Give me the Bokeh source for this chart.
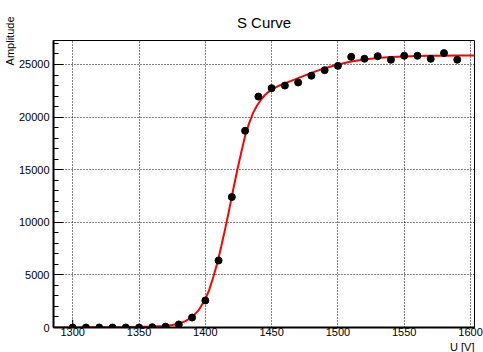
from bokeh.plotting import figure
from bokeh.models import Range1d, SingleIntervalTicker, Title
from bokeh.embed import file_html
from bokeh.resources import INLINE

# Measured points: high voltage (V) vs signal amplitude
voltage = [1300, 1310, 1320, 1330, 1340, 1350, 1360, 1370, 1380, 1390,
           1400, 1410, 1420, 1430, 1440, 1450, 1460, 1470, 1480, 1490,
           1500, 1510, 1520, 1530, 1540, 1550, 1560, 1570, 1580, 1590]
amplitude = [0, 0, 0, 0, 0, 0, 30, 80, 290, 950,
             2570, 6370, 12400, 18700, 21950, 22750, 23000, 23290, 23930, 24460,
             24870, 25730, 25540, 25790, 25450, 25830, 25830, 25540, 26080, 25450]
# upper error on the first point (only one large enough to show)
err_x = [1300]
err_lo = [0]
err_hi = [750]

# Fitted S-curve, sampled
fit_u = [1285.5, 1300, 1320, 1340, 1350, 1360, 1370, 1375, 1380, 1385, 1390,
         1395, 1400, 1403, 1406, 1409, 1412, 1415, 1418, 1421, 1424, 1427,
         1430, 1433, 1436, 1439, 1442, 1445, 1450, 1455, 1460, 1470, 1480,
         1490, 1500, 1510, 1520, 1530, 1540, 1550, 1560, 1570, 1580, 1590, 1603]
fit_a = [0, 10, 25, 45, 60, 90, 150, 230, 350, 600, 1000,
         1650, 2700, 3600, 4800, 6100, 7700, 9400, 11200, 13100, 14900, 16600,
         18200, 19400, 20400, 21100, 21650, 22100, 22650, 22950, 23200, 23700, 24200,
         24650, 25000, 25280, 25480, 25620, 25700, 25760, 25800, 25820, 25840, 25850, 25860]

p = figure(width=483, height=352, output_backend="svg", toolbar_location=None,
           x_range=Range1d(1285.5, 1603), y_range=Range1d(0, 27280),
           min_border_left=53, min_border_right=9, min_border_top=40,
           min_border_bottom=25, title=None)

p.background_fill_color = "white"
p.border_fill_color = "white"
p.outline_line_color = "black"
p.outline_line_width = 1

# axes
p.xaxis.ticker = SingleIntervalTicker(interval=50, num_minor_ticks=0)
p.yaxis.ticker = SingleIntervalTicker(interval=5000, num_minor_ticks=5)
for ax in (p.xaxis, p.yaxis):
    ax.axis_line_color = "black"
    ax.axis_line_width = 2
    ax.major_label_text_font = "Liberation Sans"
    ax.major_label_text_font_size = "11px"
    ax.major_label_text_color = "black"
    ax.major_tick_out = 0
    ax.minor_tick_out = 0
p.yaxis.major_label_standoff = 4
p.xaxis.major_label_standoff = 0
p.xaxis.major_tick_in = 0
p.xaxis.minor_tick_in = 0
p.yaxis.major_tick_in = 10
p.yaxis.minor_tick_in = 5
p.yaxis.major_tick_line_color = "black"
p.yaxis.minor_tick_line_color = "black"

for g in (p.xgrid, p.ygrid):
    g.grid_line_color = "black"
    g.grid_line_dash = "1 2"
    g.grid_line_width = 1

# fit curve and data points
p.line(fit_u, fit_a, line_color="red", line_width=2)
p.segment(x0=err_x, y0=err_lo, x1=err_x, y1=err_hi, line_color="black", line_width=1)
p.scatter(voltage, amplitude, size=7, color="black")

# titles
p.add_layout(Title(text="S Curve", align="center", offset=-16, standoff=19,
                   text_font="Liberation Sans", text_font_size="15px",
                   text_font_style="normal", text_color="black"), "above")
p.add_layout(Title(text="Amplitude", align="right", offset=-24, standoff=0,
                   text_font="Liberation Sans", text_font_size="11px",
                   text_font_style="normal", text_color="black"), "left")
p.add_layout(Title(text="U [V]", align="right", standoff=0,
                   text_font="Liberation Sans", text_font_size="11px",
                   text_font_style="normal", text_color="black"), "below")

open("out.html", "w").write(file_html(p, INLINE))
